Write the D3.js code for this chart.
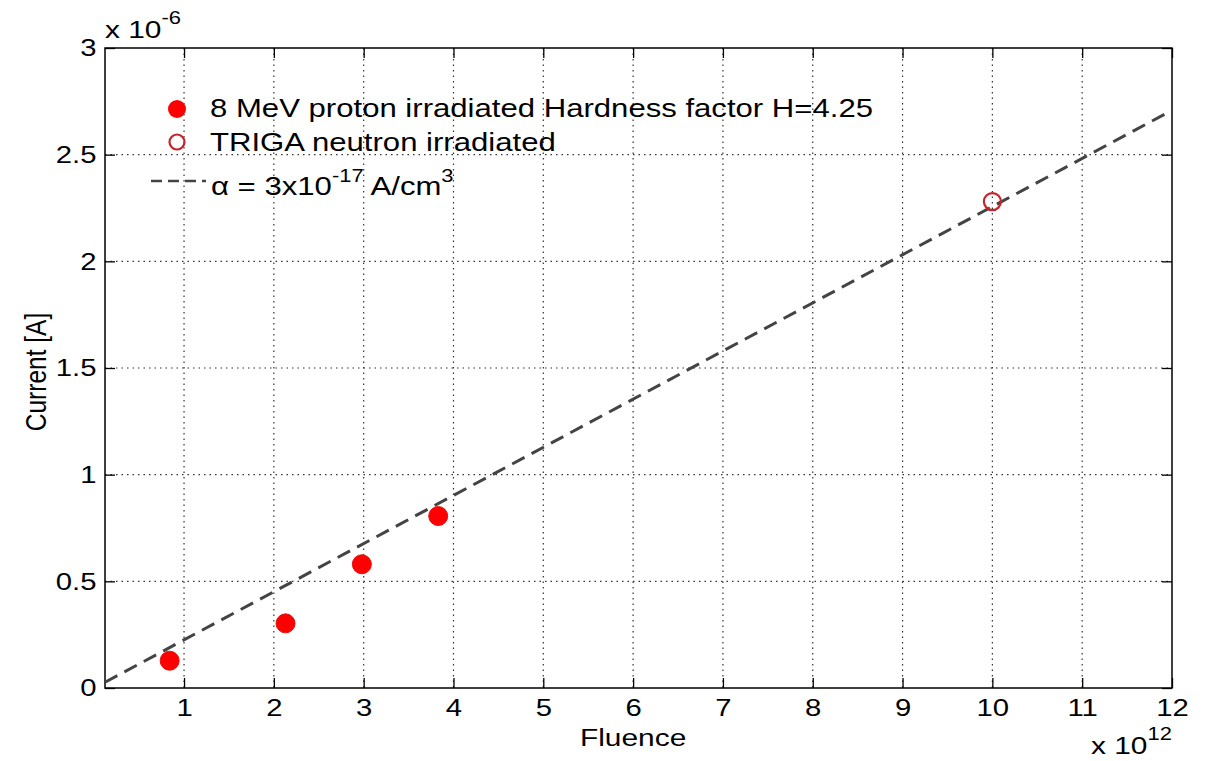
<!DOCTYPE html>
<html>
<head>
    <title>Current vs Fluence</title>
    <script src="https://d3js.org/d3.v7.min.js"></script>
    <style>
        body { margin: 0; background: #fff; }
        svg { font-family: "Liberation Sans", Arial, sans-serif; }
        .grid line { stroke: #333; stroke-width: 1.2; stroke-dasharray: 1.5,4; }
        .axis path { display: none; }
        .axis line { stroke: #000; stroke-width: 1.3; }
        .axis text { font-size: 24px; fill: #000; }
    </style>
</head>
<body>
    <svg width="1206" height="761"></svg>
    <script>
        // data (fluence in 1e12, current in 1e-6 A)
        const protonFluence = [0.84, 2.13, 2.98, 3.83];
        const protonCurrent = [0.128, 0.303, 0.58, 0.806];
        const neutronFluence = [10.0];
        const neutronCurrent = [2.28];
        const fitFluence = [0.12, 12];
        const fitCurrent = [0.027, 2.708];
        const xTicks = [1, 2, 3, 4, 5, 6, 7, 8, 9, 10, 11, 12];
        const yTicks = [0, 0.5, 1, 1.5, 2, 2.5, 3];
        const yTickLabels = ["0", "0.5", "1", "1.5", "2", "2.5", "3"];

        const SX = 1.22; // picture is stretched sideways
        const pL = 105, pR = 1172, pT = 48, pB = 688;

        const svg = d3.select("svg");

        const x = d3.scaleLinear().domain([0.12, 12]).range([pL, pR]);
        const y = d3.scaleLinear().domain([0, 3]).range([pB, pT]);

        // grid
        const grid = svg.append("g").attr("class", "grid");
        grid.selectAll(".gx").data(xTicks.filter(d => d < 12)).enter().append("line")
            .attr("x1", d => x(d)).attr("x2", d => x(d))
            .attr("y1", pT).attr("y2", pB);
        grid.selectAll(".gy").data(yTicks.filter(d => d > 0 && d < 3)).enter().append("line")
            .attr("x1", pL).attr("x2", pR)
            .attr("y1", d => y(d)).attr("y2", d => y(d));

        // axes, ticks pointing inward
        const xAxis = svg.append("g").attr("class", "axis")
            .attr("transform", `translate(0,${pB})`)
            .call(d3.axisBottom(x).tickValues(xTicks).tickSizeInner(-10).tickSizeOuter(0).tickPadding(11));
        xAxis.selectAll("text").attr("transform", `scale(${SX},1)`).attr("x", 0);
        svg.append("g").attr("class", "axis")
            .attr("transform", `translate(0,${pT})`)
            .call(d3.axisTop(x).tickValues(xTicks).tickSizeInner(-10).tickSizeOuter(0).tickFormat(""));

        const yAxis = svg.append("g").attr("class", "axis")
            .attr("transform", `translate(${pL},0)`)
            .call(d3.axisLeft(y).tickValues(yTicks).tickSizeInner(-10).tickSizeOuter(0).tickPadding(7)
                .tickFormat((d, i) => yTickLabels[i]));
        yAxis.selectAll("text").attr("transform", `scale(${SX},1)`);
        svg.append("g").attr("class", "axis")
            .attr("transform", `translate(${pR},0)`)
            .call(d3.axisRight(y).tickValues(yTicks).tickSizeInner(-10).tickSizeOuter(0).tickFormat(""));

        // frame
        svg.append("rect")
            .attr("x", pL).attr("y", pT)
            .attr("width", pR - pL).attr("height", pB - pT)
            .attr("fill", "none").attr("stroke", "#000").attr("stroke-width", 1.5);

        // fit line
        const line = d3.line().x(d => x(d[0])).y(d => y(d[1]));
        svg.append("path")
            .datum(d3.zip(fitFluence, fitCurrent))
            .attr("d", line)
            .attr("fill", "none")
            .attr("stroke", "#444")
            .attr("stroke-width", 3)
            .attr("stroke-dasharray", "14,8");

        // points
        svg.selectAll(".proton").data(d3.zip(protonFluence, protonCurrent)).enter().append("circle")
            .attr("cx", d => x(d[0])).attr("cy", d => y(d[1])).attr("r", 9.5)
            .attr("fill", "#f00").attr("stroke", "#e41010").attr("stroke-width", 1);
        svg.selectAll(".neutron").data(d3.zip(neutronFluence, neutronCurrent)).enter().append("circle")
            .attr("cx", d => x(d[0])).attr("cy", d => y(d[1])).attr("r", 8.5)
            .attr("fill", "none").attr("stroke", "#c8232a").attr("stroke-width", 2.2);

        // helper for the stretched text
        function stext(px, py, size) {
            return svg.append("text")
                .attr("transform", `translate(${px},${py}) scale(${SX},1)`)
                .attr("font-size", size)
                .attr("fill", "#000");
        }

        // legend
        svg.append("circle").attr("cx", 177).attr("cy", 109).attr("r", 9)
            .attr("fill", "#f00");
        svg.append("circle").attr("cx", 177).attr("cy", 142).attr("r", 7.5)
            .attr("fill", "none").attr("stroke", "#c8232a").attr("stroke-width", 2.2);
        svg.append("line").attr("x1", 151).attr("x2", 206).attr("y1", 181).attr("y2", 181)
            .attr("stroke", "#444").attr("stroke-width", 2.5).attr("stroke-dasharray", "11,6");

        stext(210, 117, 25.5).text("8 MeV proton irradiated Hardness factor H=4.25");
        stext(210, 151, 25.5).text("TRIGA neutron irradiated");
        const alpha = stext(211, 195, 25.5);
        alpha.append("tspan").text("\u03b1 = 3x10");
        alpha.append("tspan").attr("dy", -13).attr("font-size", 18).text("-17");
        alpha.append("tspan").attr("dy", 13).text(" A/cm");
        alpha.append("tspan").attr("dy", -13).attr("font-size", 18).text("3");

        // axis labels
        stext(x(6), 746, 24.5).attr("text-anchor", "middle").text("Fluence");
        svg.append("text")
            .attr("transform", `translate(46,372) scale(${SX},1) rotate(-90)`)
            .attr("text-anchor", "middle")
            .attr("font-size", 24.5)
            .text("Current [A]");

        // exponent labels
        const ey = stext(105, 38, 24.5);
        ey.append("tspan").text("x 10");
        ey.append("tspan").attr("dy", -14).attr("font-size", 18).text("-6");
        const ex = stext(1091, 754, 24.5);
        ex.append("tspan").text("x 10");
        ex.append("tspan").attr("dy", -14).attr("font-size", 18).text("12");
    </script>
</body>
</html>
